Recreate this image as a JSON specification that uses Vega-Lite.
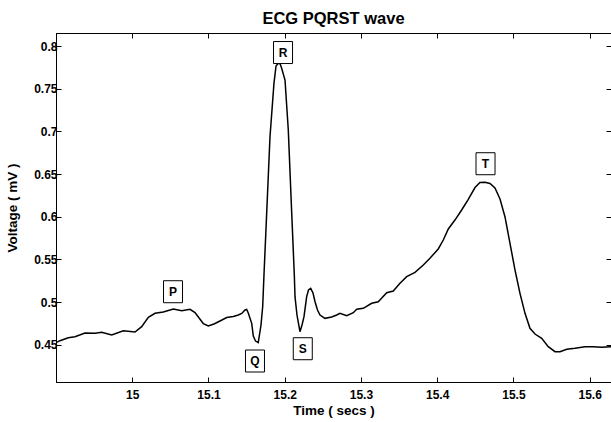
{
  "$schema": "https://vega.github.io/schema/vega-lite/v6.json",
  "width": 555,
  "height": 349,
  "autosize": {"type": "none"},
  "padding": {"left": 56, "top": 33, "right": 0, "bottom": 40},
  "background": "white",
  "title": {"text": "ECG PQRST wave", "font": "Liberation Sans", "fontSize": 16.5, "fontWeight": "bold", "color": "black", "anchor": "middle", "offset": 5},
  "config": {
    "view": {"stroke": "black", "strokeWidth": 1},
    "axis": {
      "labelFont": "Liberation Sans", "labelFontSize": 12, "labelFontWeight": "bold", "labelColor": "black",
      "titleFont": "Liberation Sans", "titleFontSize": 13.5, "titleFontWeight": "bold", "titleColor": "black",
      "domainColor": "black", "tickColor": "black", "grid": false
    }
  },
  "datasets": {
    "ecg": [
      {"t": 14.9, "v": 0.4524}, {"t": 14.9052, "v": 0.4547}, {"t": 14.9161, "v": 0.4582}, {"t": 14.9249, "v": 0.4594},
      {"t": 14.938, "v": 0.4637}, {"t": 14.9512, "v": 0.4634}, {"t": 14.9599, "v": 0.4645}, {"t": 14.9731, "v": 0.4614},
      {"t": 14.9883, "v": 0.4664}, {"t": 15.0036, "v": 0.4649}, {"t": 15.0124, "v": 0.4711}, {"t": 15.0211, "v": 0.4821},
      {"t": 15.0299, "v": 0.4868}, {"t": 15.0407, "v": 0.4883}, {"t": 15.0539, "v": 0.4918}, {"t": 15.0649, "v": 0.4898},
      {"t": 15.0758, "v": 0.4915}, {"t": 15.0823, "v": 0.4877}, {"t": 15.0932, "v": 0.4748}, {"t": 15.0998, "v": 0.4719},
      {"t": 15.1072, "v": 0.4743}, {"t": 15.1151, "v": 0.4778}, {"t": 15.1239, "v": 0.4819}, {"t": 15.1326, "v": 0.483},
      {"t": 15.1391, "v": 0.4848}, {"t": 15.1436, "v": 0.4866}, {"t": 15.1479, "v": 0.4907}, {"t": 15.1501, "v": 0.4913},
      {"t": 15.1522, "v": 0.4871}, {"t": 15.1567, "v": 0.4751}, {"t": 15.1588, "v": 0.4602}, {"t": 15.1617, "v": 0.4543},
      {"t": 15.1653, "v": 0.4526}, {"t": 15.1689, "v": 0.4731}, {"t": 15.1711, "v": 0.4945}, {"t": 15.1728, "v": 0.5317},
      {"t": 15.1754, "v": 0.5844}, {"t": 15.1807, "v": 0.6938}, {"t": 15.1859, "v": 0.7563}, {"t": 15.1886, "v": 0.7766},
      {"t": 15.1916, "v": 0.7798}, {"t": 15.1938, "v": 0.7795}, {"t": 15.196, "v": 0.7739}, {"t": 15.2004, "v": 0.7602},
      {"t": 15.2047, "v": 0.7016}, {"t": 15.2092, "v": 0.604}, {"t": 15.2126, "v": 0.5317}, {"t": 15.2135, "v": 0.5063},
      {"t": 15.2161, "v": 0.4848}, {"t": 15.22, "v": 0.4652}, {"t": 15.2227, "v": 0.4731}, {"t": 15.2253, "v": 0.4828},
      {"t": 15.2288, "v": 0.5063}, {"t": 15.2312, "v": 0.5141}, {"t": 15.2341, "v": 0.5161}, {"t": 15.2371, "v": 0.5106},
      {"t": 15.2397, "v": 0.5006}, {"t": 15.243, "v": 0.4907}, {"t": 15.2463, "v": 0.4848}, {"t": 15.2528, "v": 0.4809},
      {"t": 15.2616, "v": 0.4825}, {"t": 15.2682, "v": 0.4848}, {"t": 15.2725, "v": 0.4868}, {"t": 15.2813, "v": 0.484},
      {"t": 15.29, "v": 0.4875}, {"t": 15.2944, "v": 0.4915}, {"t": 15.3031, "v": 0.4927}, {"t": 15.3141, "v": 0.4985},
      {"t": 15.3227, "v": 0.5004}, {"t": 15.3338, "v": 0.5109}, {"t": 15.3424, "v": 0.5129}, {"t": 15.3512, "v": 0.522},
      {"t": 15.36, "v": 0.5297}, {"t": 15.3709, "v": 0.5348}, {"t": 15.3818, "v": 0.5434}, {"t": 15.3905, "v": 0.5513},
      {"t": 15.4014, "v": 0.5622}, {"t": 15.408, "v": 0.5727}, {"t": 15.4146, "v": 0.5856}, {"t": 15.4233, "v": 0.5961},
      {"t": 15.4321, "v": 0.6079}, {"t": 15.4408, "v": 0.6204}, {"t": 15.4496, "v": 0.6342}, {"t": 15.4561, "v": 0.6401},
      {"t": 15.4627, "v": 0.6403}, {"t": 15.4693, "v": 0.6389}, {"t": 15.4758, "v": 0.6336}, {"t": 15.4824, "v": 0.6208},
      {"t": 15.4889, "v": 0.6}, {"t": 15.4955, "v": 0.5688}, {"t": 15.5021, "v": 0.5375}, {"t": 15.5086, "v": 0.5102},
      {"t": 15.5152, "v": 0.4868}, {"t": 15.5217, "v": 0.4692}, {"t": 15.5283, "v": 0.4625}, {"t": 15.5371, "v": 0.4575},
      {"t": 15.5457, "v": 0.4477}, {"t": 15.5545, "v": 0.4418}, {"t": 15.5611, "v": 0.4418}, {"t": 15.5699, "v": 0.4446},
      {"t": 15.5808, "v": 0.4458}, {"t": 15.5939, "v": 0.4477}, {"t": 15.6048, "v": 0.4477}, {"t": 15.6158, "v": 0.447},
      {"t": 15.628, "v": 0.4477}
    ],
    "labels": [
      {"t": 15.0535, "v": 0.5121, "label": "P"},
      {"t": 15.161, "v": 0.4309, "label": "Q"},
      {"t": 15.1978, "v": 0.7924, "label": "R"},
      {"t": 15.2237, "v": 0.4453, "label": "S"},
      {"t": 15.4634, "v": 0.6621, "label": "T"}
    ]
  },
  "layer": [
    {
      "data": {"name": "ecg"},
      "mark": {"type": "line", "color": "black", "strokeWidth": 1.5},
      "encoding": {
        "x": {"field": "t", "type": "quantitative", "scale": {"domain": [14.9, 15.628], "nice": false, "zero": false},
              "axis": {"orient": "bottom", "title": "Time ( secs )", "values": [15, 15.1, 15.2, 15.3, 15.4, 15.5, 15.6], "format": "~g", "domain": true, "tickSize": -5, "tickWidth": 1, "labelPadding": 12, "titleX": 277.5, "titleY": 32, "titleBaseline": "alphabetic", "titleAnchor": "middle"}},
        "y": {"field": "v", "type": "quantitative", "scale": {"domain": [0.4063, 0.8153], "nice": false, "zero": false},
              "axis": {"orient": "left", "title": "Voltage ( mV )", "values": [0.45, 0.5, 0.55, 0.6, 0.65, 0.7, 0.75, 0.8], "format": "~g", "tickSize": -5, "labelPadding": 4, "titleX": -40, "titleY": 174.5, "titleAngle": -90, "titleBaseline": "alphabetic", "titleAnchor": "middle"}}
      }
    },
    {
      "data": {"name": "labels"},
      "mark": {"type": "point", "shape": "M-0.864,-1H0.864V1H-0.864Z", "size": 484, "filled": true, "fill": "white", "stroke": "black", "strokeWidth": 1, "opacity": 1},
      "encoding": {
        "x": {"field": "t", "type": "quantitative", "scale": {"domain": [14.9, 15.628], "nice": false, "zero": false},
              "axis": {"orient": "top", "title": null, "labels": false, "tickSize": -5, "tickWidth": 1, "values": [15, 15.1, 15.2, 15.3, 15.4, 15.5, 15.6]}},
        "y": {"field": "v", "type": "quantitative", "scale": {"domain": [0.4063, 0.8153], "nice": false, "zero": false},
              "axis": {"orient": "right", "title": null, "labels": false, "tickSize": -5, "values": [0.45, 0.5, 0.55, 0.6, 0.65, 0.7, 0.75, 0.8]}}
      }
    },
    {
      "data": {"name": "labels"},
      "mark": {"type": "text", "font": "Liberation Sans", "fontSize": 12, "fontWeight": "bold", "color": "black", "baseline": "middle", "align": "center"},
      "encoding": {
        "x": {"field": "t", "type": "quantitative", "axis": null},
        "y": {"field": "v", "type": "quantitative", "axis": null},
        "text": {"field": "label", "type": "nominal"}
      }
    }
  ],
  "resolve": {"axis": {"x": "independent", "y": "independent"}}
}
